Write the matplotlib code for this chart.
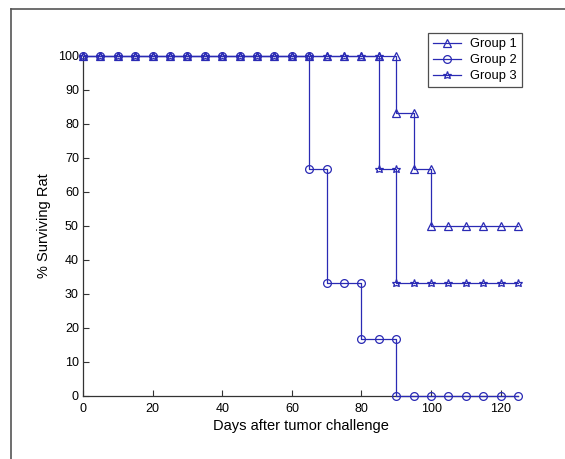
import matplotlib
matplotlib.use("Agg")
import matplotlib.pyplot as plt
from matplotlib.lines import Line2D

plt.rcParams['font.family'] = ['Liberation Sans', 'DejaVu Sans']

# Data (days, % surviving) as step points
g1_days = [0, 5, 10, 15, 20, 25, 30, 35, 40, 45, 50, 55, 60, 65, 70, 75, 80, 85, 90,
           90, 95, 95, 100, 100, 105, 110, 115, 120, 125]
g1_surv = [100]*19 + [83.3, 83.3, 66.7, 66.7, 50, 50, 50, 50, 50, 50]

g2_days = [0, 5, 10, 15, 20, 25, 30, 35, 40, 45, 50, 55, 60, 65,
           65, 70, 70, 75, 80, 80, 85, 90, 90, 95, 100, 105, 110, 115, 120, 125]
g2_surv = [100]*14 + [66.7, 66.7, 33.3, 33.3, 33.3, 16.7, 16.7, 16.7,
                      0, 0, 0, 0, 0, 0, 0, 0]

g3_days = [0, 5, 10, 15, 20, 25, 30, 35, 40, 45, 50, 55, 60, 65, 70, 75, 80, 85,
           85, 90, 90, 95, 100, 105, 110, 115, 120, 125]
g3_surv = [100]*18 + [66.7, 66.7, 33.3, 33.3, 33.3, 33.3, 33.3, 33.3, 33.3, 33.3]

labels = ["Group 1", "Group 2", "Group 3"]
x_ticks = [0, 20, 40, 60, 80, 100, 120]
y_ticks = [0, 10, 20, 30, 40, 50, 60, 70, 80, 90, 100]

color = '#2a2ab4'

fig = plt.figure(figsize=(5.65, 4.59), dpi=100)
ax = fig.add_axes([0.147, 0.1373, 0.77, 0.7407])

h1, = ax.plot(g1_days, g1_surv, color=color, lw=0.9, marker='^', ms=5.8,
              mfc='none', mec=color, mew=0.9, clip_on=False, zorder=3)
h2, = ax.plot(g2_days, g2_surv, color=color, lw=0.9, marker='o', ms=5.6,
              mfc='none', mec=color, mew=0.9, clip_on=False, zorder=3)
h3, = ax.plot(g3_days, g3_surv, color=color, lw=0.9, marker='*', ms=6.2,
              mfc='none', mec=color, mew=0.9, clip_on=False, zorder=3)

ax.set_xlim(0, 125)
ax.set_ylim(0, 100)
ax.set_xticks(x_ticks)
ax.set_yticks(y_ticks)
ax.spines['top'].set_visible(False)
ax.spines['right'].set_visible(False)
for s in ['left', 'bottom']:
    ax.spines[s].set_color('#333333')
    ax.spines[s].set_linewidth(0.9)
ax.tick_params(direction='in', length=4, width=0.8, color='#333333',
               labelsize=9)
ax.tick_params(axis='x', pad=5)
ax.tick_params(axis='y', pad=3)
ax.set_xlabel("Days after tumor challenge", fontsize=10.5, labelpad=3)
ax.set_ylabel("% Surviving Rat", fontsize=10.5, labelpad=5)

leg = fig.legend([h1, h2, h3], labels, loc='upper left',
                 bbox_to_anchor=(0.757, 0.928), fontsize=9.3, frameon=True,
                 fancybox=False, edgecolor='#222222', handlelength=2.2,
                 handletextpad=0.7, borderpad=0.4, labelspacing=0.3,
                 borderaxespad=0)
leg.get_frame().set_linewidth(0.9)

# Outer frame lines (left and top)
fig.add_artist(Line2D([11/565, 11/565], [0, 1 - 9/459], transform=fig.transFigure,
                      color='#555555', lw=1.2))
fig.add_artist(Line2D([11/565, 1], [1 - 9/459, 1 - 9/459], transform=fig.transFigure,
                      color='#555555', lw=1.2))

fig.savefig("out.png", dpi=100, facecolor='white')
